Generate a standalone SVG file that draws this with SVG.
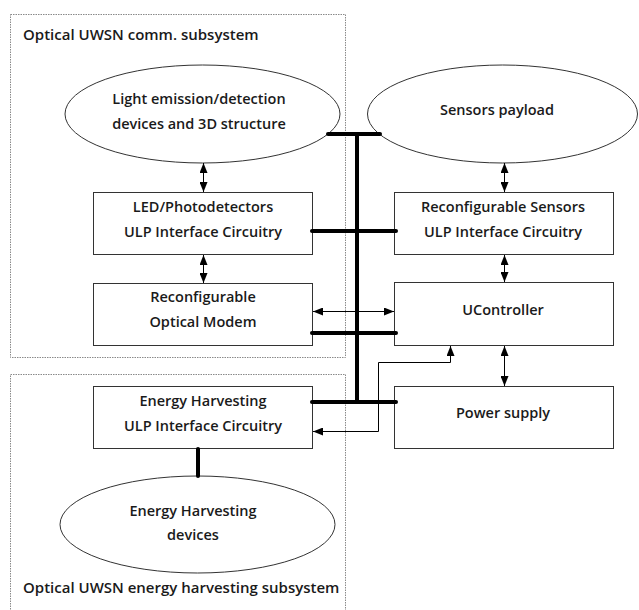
<svg xmlns="http://www.w3.org/2000/svg" width="639" height="610" viewBox="0 0 639 610">
<defs>
<marker id="ah" viewBox="0 0 10 8" refX="10" refY="4" markerWidth="10" markerHeight="8" markerUnits="userSpaceOnUse" orient="auto-start-reverse">
<path d="M0,0 L10,4 L0,8 Z" fill="#000"/>
</marker>
</defs>
<style>
.grp{fill:none;stroke:#8a8a8a;stroke-width:1;stroke-dasharray:1.5 1}
.box{fill:#fff;stroke:#333;stroke-width:1}
.t{font-family:"Open Sans","Liberation Sans",sans-serif;font-size:14.5px;font-weight:600;fill:#1a1a1a;text-anchor:middle}
.lbl{font-family:"Open Sans","Liberation Sans",sans-serif;font-size:15px;font-weight:600;fill:#1a1a1a}
.bus{stroke:#000;stroke-width:4;fill:none;stroke-linecap:round}
.ar{stroke:#000;stroke-width:1;fill:none;marker-start:url(#ah);marker-end:url(#ah)}
</style>
<rect width="639" height="610" fill="#fff"/>
<g id="comm-subsystem">
<rect class="grp" x="10.5" y="14.5" width="335" height="343"/>
<text class="lbl" x="23" y="40">Optical UWSN comm. subsystem</text>
</g>
<g id="energy-subsystem">
<rect class="grp" x="10.5" y="374.5" width="335" height="240"/>
<text class="lbl" x="23" y="593">Optical UWSN energy harvesting subsystem</text>
</g>
<g id="light-devices">
<ellipse class="box" cx="202.5" cy="114" rx="137.5" ry="49"/>
<text class="t" x="199" y="104">Light emission/detection</text>
<text class="t" x="199" y="129">devices and 3D structure</text>
</g>
<g id="sensors-payload">
<ellipse class="box" cx="502.5" cy="114" rx="135" ry="49"/>
<text class="t" x="497" y="115">Sensors payload</text>
</g>
<g id="led-interface">
<rect class="box" x="93.5" y="192.5" width="219" height="62"/>
<text class="t" x="203" y="212">LED/Photodetectors</text>
<text class="t" x="203" y="237">ULP Interface Circuitry</text>
</g>
<g id="sensors-interface">
<rect class="box" x="394.5" y="192.5" width="219" height="62"/>
<text class="t" x="503" y="212">Reconfigurable Sensors</text>
<text class="t" x="503" y="237">ULP Interface Circuitry</text>
</g>
<g id="optical-modem">
<rect class="box" x="93.5" y="283.5" width="219" height="62"/>
<text class="t" x="203" y="302">Reconfigurable</text>
<text class="t" x="203" y="327">Optical Modem</text>
</g>
<g id="ucontroller">
<rect class="box" x="394.5" y="282.5" width="219" height="63"/>
<text class="t" x="503" y="315">UController</text>
</g>
<g id="energy-interface">
<rect class="box" x="93.5" y="386.5" width="219" height="62"/>
<text class="t" x="203" y="406">Energy Harvesting</text>
<text class="t" x="203" y="431">ULP Interface Circuitry</text>
</g>
<g id="power-supply">
<rect class="box" x="394.5" y="386.5" width="219" height="62"/>
<text class="t" x="503" y="418">Power supply</text>
</g>
<g id="energy-devices">
<ellipse class="box" cx="197.5" cy="524.5" rx="137.5" ry="48.5"/>
<text class="t" x="193" y="516">Energy Harvesting</text>
<text class="t" x="193" y="540">devices</text>
</g>
<g id="connectors">
<line class="bus" x1="357" y1="134" x2="357" y2="402"/>
<line class="bus" x1="328" y1="134" x2="380" y2="134"/>
<line class="bus" x1="312" y1="231" x2="396" y2="231"/>
<line class="bus" x1="312" y1="333" x2="396" y2="333"/>
<line class="bus" x1="312" y1="402" x2="396" y2="402"/>
<line class="bus" x1="198" y1="449" x2="198" y2="476"/>
<line class="ar" x1="203.5" y1="163" x2="203.5" y2="192"/>
<line class="ar" x1="203.5" y1="255" x2="203.5" y2="283"/>
<line class="ar" x1="504.5" y1="163" x2="504.5" y2="192"/>
<line class="ar" x1="504.5" y1="255" x2="504.5" y2="282"/>
<line class="ar" x1="504.5" y1="346" x2="504.5" y2="386"/>
<line class="ar" x1="313" y1="311.5" x2="394" y2="311.5"/>
<polyline class="ar" points="313,431.5 378.5,431.5 378.5,362.5 450.5,362.5 450.5,346"/>
</g>
</svg>
